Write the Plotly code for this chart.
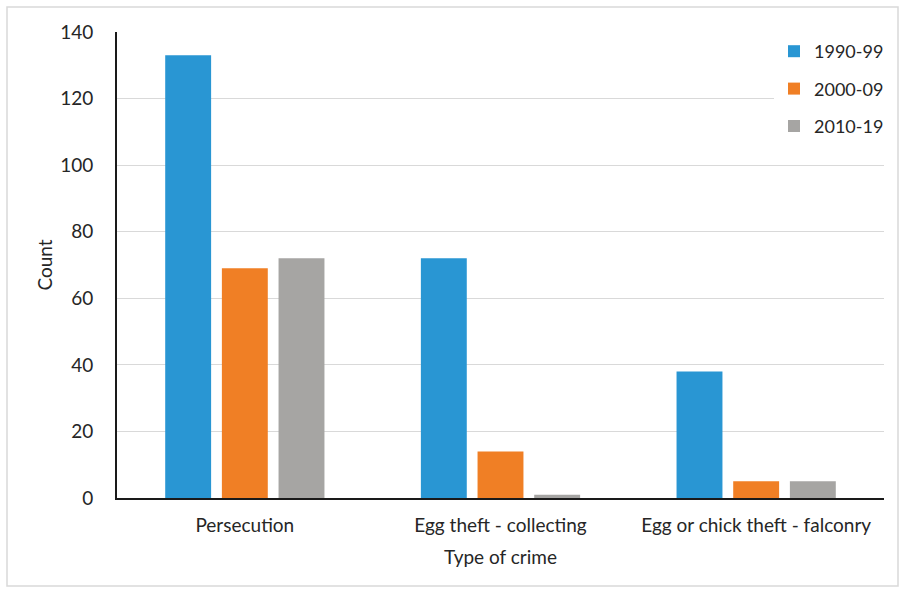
import plotly.graph_objects as go

# Recorded wildlife crime incidents by type and decade
categories = ["Persecution", "Egg theft - collecting", "Egg or chick theft - falconry"]
decades = ["1990-99", "2000-09", "2010-19"]
counts_1990s = [133, 72, 38]
counts_2000s = [69, 14, 5]
counts_2010s = [72, 1, 5]
y_ticks = [0, 20, 40, 60, 80, 100, 120, 140]

series = [counts_1990s, counts_2000s, counts_2010s]
colors = ["#2996D3", "#F07F25", "#A6A5A3"]

W, H = 904, 589
L, R, T, B = 117, 20, 32, 91
pw, ph = W - L - R, H - T - B

fig = go.Figure()
for i, (name, vals) in enumerate(zip(decades, series)):
    fig.add_trace(go.Bar(
        x=categories, y=vals, name=name,
        marker=dict(color=colors[i], line=dict(width=0)),
        legendgroup=name,
    ))

# thin frame around the whole chart area
def px_to_paper_x(px):
    return (px - L) / pw

def px_to_paper_y(py):
    return (H - B - py) / ph

fig.add_shape(
    type="rect", xref="paper", yref="paper",
    x0=px_to_paper_x(7), x1=px_to_paper_x(898),
    y0=px_to_paper_y(586), y1=px_to_paper_y(7),
    line=dict(color="#D9D9D9", width=1.5), fillcolor="rgba(0,0,0,0)",
    layer="below",
)

font_family = "Lato, 'DejaVu Sans', sans-serif"
text_color = "#262626"
fs = 19

fig.update_layout(
    width=W, height=H,
    margin=dict(l=L, r=R, t=T, b=B, autoexpand=False),
    paper_bgcolor="white", plot_bgcolor="white",
    font=dict(family=font_family, size=fs, color=text_color),
    barmode="group", bargap=0.335, bargroupgap=0.19,
    showlegend=True,
    legend=dict(
        x=px_to_paper_x(774), y=px_to_paper_y(33),
        xanchor="left", yanchor="top",
        bgcolor="white", borderwidth=0,
        traceorder="grouped", tracegroupgap=11,
        font=dict(size=18, color=text_color),
    ),
    xaxis=dict(
        title=dict(text="Type of crime", standoff=16, font=dict(size=fs)),
        showline=True, linecolor="#1a1a1a", linewidth=2,
        ticks="", showgrid=False,
        tickfont=dict(size=fs),
        ticklabelstandoff=9,
    ),
    yaxis=dict(
        title=dict(text="Count", standoff=2, font=dict(size=fs)),
        range=[0, 140], tickvals=y_ticks,
        showline=True, linecolor="#1a1a1a", linewidth=2,
        showgrid=True, gridcolor="#D9D9D9", gridwidth=1,
        ticks="", zeroline=False,
        tickfont=dict(size=fs),
        ticklabelstandoff=18,
    ),
)

fig.write_html("out.html")
